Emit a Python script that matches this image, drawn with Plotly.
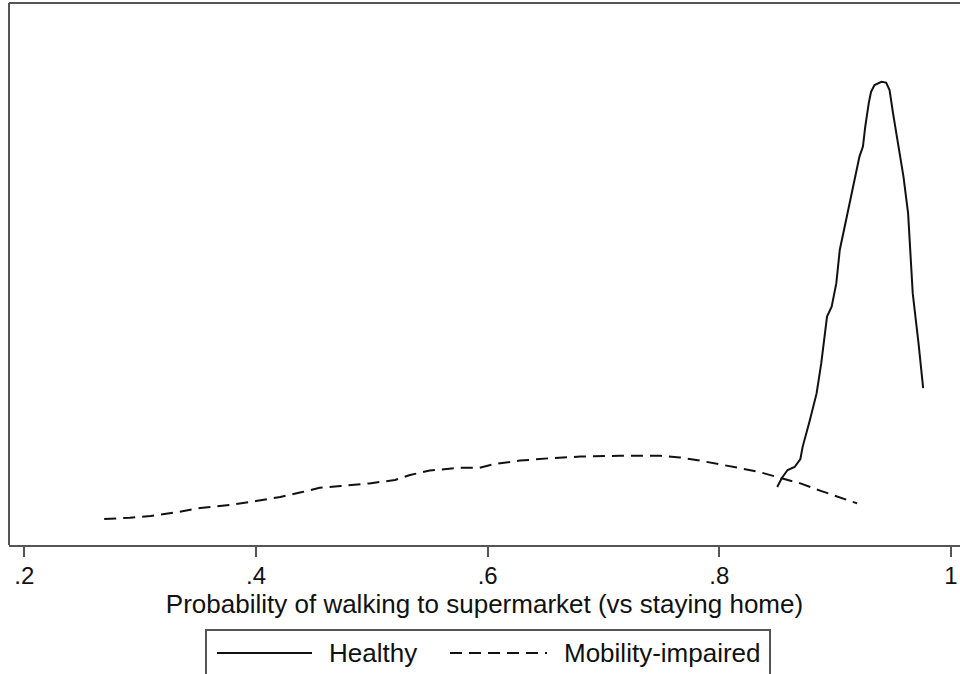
import plotly.graph_objects as go

# Kernel density estimates
mob_x = [0.269, 0.291, 0.309, 0.334, 0.352, 0.378, 0.400, 0.421, 0.438, 0.455,
         0.473, 0.498, 0.520, 0.533, 0.550, 0.576, 0.593, 0.606, 0.628, 0.654,
         0.680, 0.714, 0.749, 0.766, 0.783, 0.800, 0.818, 0.835, 0.852, 0.870,
         0.887, 0.904, 0.919]
mob_y = [0.15, 0.18, 0.225, 0.33, 0.425, 0.50, 0.60, 0.70, 0.81, 0.93,
         0.975, 1.04, 1.125, 1.25, 1.36, 1.43, 1.43, 1.525, 1.61, 1.67,
         1.71, 1.73, 1.73, 1.69, 1.61, 1.525, 1.42, 1.32, 1.19, 1.04,
         0.86, 0.69, 0.54]

hea_x = [0.850, 0.854, 0.859, 0.865, 0.870, 0.872, 0.878, 0.884, 0.888, 0.891,
         0.893, 0.897, 0.901, 0.904, 0.910, 0.916, 0.921, 0.924, 0.926, 0.929,
         0.931, 0.934, 0.937, 0.940, 0.944, 0.947, 0.950, 0.954, 0.959, 0.963,
         0.965, 0.967, 0.972, 0.976]
hea_y = [0.95, 1.175, 1.375, 1.45, 1.65, 1.96, 2.6, 3.29, 4.04, 4.79,
         5.21, 5.46, 6.04, 6.875, 7.71, 8.46, 9.21, 9.46, 9.96, 10.54,
         10.83, 11.0, 11.04, 11.08, 11.06, 10.875, 10.29, 9.625, 8.71, 7.79,
         6.875, 5.79, 4.54, 3.42]

tick_vals = [0.2, 0.4, 0.6, 0.8, 1.0]
tick_text = [".2", ".4", ".6", ".8", "1"]
series_names = ["Healthy", "Mobility-impaired"]
x_title = "Probability of walking to supermarket (vs staying home)"

FONT = "Liberation Sans, Arial, sans-serif"
W, H = 960, 674
ML, MT, MB = 9, 3, 129
PW, PH = W - ML, H - MT - MB

def px(xp):
    return (xp - ML) / PW

def py(yp):
    return (H - MB - yp) / PH

fig = go.Figure()
fig.add_trace(go.Scatter(x=hea_x, y=hea_y, mode="lines", name=series_names[0],
                         line=dict(color="#111111", width=2), showlegend=False))
fig.add_trace(go.Scatter(x=mob_x, y=mob_y, mode="lines", name=series_names[1],
                         line=dict(color="#111111", width=2, dash="12px,7px"),
                         showlegend=False))

FRAME = "#555555"
shapes = [
    # plot region frame: left and top edges
    dict(type="line", xref="paper", yref="paper", x0=0, x1=0, y0=0, y1=1,
         line=dict(color=FRAME, width=2)),
    dict(type="line", xref="paper", yref="paper", x0=0, x1=1.02, y0=1, y1=1,
         line=dict(color=FRAME, width=2)),
    # manual legend (Stata style)
    dict(type="rect", xref="paper", yref="paper", x0=px(206), x1=px(770),
         y0=py(630), y1=py(700), line=dict(color=FRAME, width=2)),
    dict(type="line", xref="paper", yref="paper", x0=px(217), x1=px(312),
         y0=py(653), y1=py(653), line=dict(color="#111111", width=2)),
    dict(type="line", xref="paper", yref="paper", x0=px(450), x1=px(547),
         y0=py(653), y1=py(653), line=dict(color="#111111", width=2, dash="12px,7px")),
]
annotations = [
    dict(text=series_names[0], xref="paper", yref="paper", x=px(327), y=py(653),
         xanchor="left", yanchor="middle", showarrow=False,
         font=dict(family=FONT, size=26, color="#111111")),
    dict(text=series_names[1], xref="paper", yref="paper", x=px(562), y=py(653),
         xanchor="left", yanchor="middle", showarrow=False,
         font=dict(family=FONT, size=26, color="#111111")),
]

fig.update_layout(
    width=W, height=H,
    margin=dict(l=ML, r=0, t=MT, b=MB),
    paper_bgcolor="white", plot_bgcolor="white",
    font=dict(family=FONT, color="#111111"),
    shapes=shapes, annotations=annotations,
    showlegend=False,
)
fig.update_xaxes(
    range=[0.1868, 1.0078], tickvals=tick_vals, ticktext=tick_text,
    ticks="outside", ticklen=10, tickwidth=2, tickcolor=FRAME,
    ticklabelstandoff=-2,
    showline=True, linecolor=FRAME, linewidth=2, mirror=False,
    showgrid=False, zeroline=False,
    tickfont=dict(family=FONT, size=24, color="#111111"),
    title=dict(text=x_title, font=dict(family=FONT, size=26, color="#111111"), standoff=0),
    automargin=False,
)
fig.update_yaxes(
    range=[-0.5, 13.05], showline=False,
    showticklabels=False, ticks="", showgrid=False, zeroline=False,
    automargin=False,
)

fig.write_html("out.html", config={"displayModeBar": False},
               post_script="document.body.style.margin='0px';")
